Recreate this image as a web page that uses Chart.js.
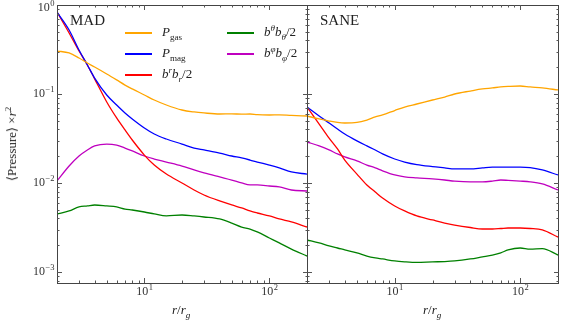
<!DOCTYPE html>
<html>
<head>
<meta charset="utf-8">
<script src="https://cdn.jsdelivr.net/npm/chart.js@4.4.0/dist/chart.umd.min.js"></script>
<style>
  body { margin: 0; background: #fff; }
  #wrap { position: relative; width: 566px; height: 324px; font-family: "Liberation Serif", serif; color: #222; overflow: hidden; }
  canvas { position: absolute; top: 0; }
  .txt { position: absolute; white-space: nowrap; line-height: 14px; }
  .key { position: absolute; height: 1.5px; width: 27px; }
  sub, sup { font-size: 70%; line-height: 0; }
  i { font-style: italic; }
</style>
</head>
<body>
<div id="wrap">
  <canvas id="mad" width="310" height="324" style="left:0"></canvas>
  <canvas id="sane" width="266" height="324" style="left:300px"></canvas>

  <div class="txt" style="left:70px;top:13px;font-size:15px;">MAD</div>
  <div class="txt" style="left:320px;top:13px;font-size:15px;">SANE</div>

  <div class="key" style="left:125px;top:32px;background:orange"></div>
  <div class="key" style="left:125px;top:53px;background:blue"></div>
  <div class="key" style="left:125px;top:74px;background:red"></div>
  <div class="key" style="left:227px;top:32px;background:green"></div>
  <div class="key" style="left:227px;top:53px;background:#bf00bf"></div>
  <div class="txt" style="left:162px;top:25px;font-size:13px;"><i>P</i><sub>gas</sub></div>
  <div class="txt" style="left:162px;top:46px;font-size:13px;"><i>P</i><sub>mag</sub></div>
  <div class="txt" style="left:162px;top:67px;font-size:13px;"><i>b<sup>r</sup>b<sub>r</sub></i>/2</div>
  <div class="txt" style="left:264px;top:25px;font-size:13px;"><i>b<sup>θ</sup>b<sub>θ</sub></i>/2</div>
  <div class="txt" style="left:264px;top:46px;font-size:13px;"><i>b<sup>φ</sup>b<sub>φ</sub></i>/2</div>

  <div class="txt" style="left:172px;top:303px;font-size:13px;"><i>r</i>/<i>r<sub>g</sub></i></div>
  <div class="txt" style="left:423px;top:303px;font-size:13px;"><i>r</i>/<i>r<sub>g</sub></i></div>
  <div class="txt" style="left:12px;top:144px;font-size:13px;transform:translate(-50%,-50%) rotate(-90deg);">⟨Pressure⟩ ×<i>r</i><sup>2</sup></div>
</div>
<script>
// radius grid, r / r_g
const radii = [2, 2.5, 3, 3.5, 4, 5, 6, 7, 8, 10, 12, 15, 20, 25, 30, 40, 50, 60, 70, 80, 100, 120, 150, 200];

// MAD
const madGas = [0.304, 0.289, 0.254, 0.223, 0.201, 0.168, 0.144, 0.126, 0.114, 0.0975, 0.0856, 0.0752, 0.0661, 0.0628, 0.0612, 0.0596, 0.0598, 0.0594, 0.0596, 0.0585, 0.0581, 0.0583, 0.0574, 0.0566];
const madMag = [0.834, 0.524, 0.312, 0.212, 0.151, 0.0975, 0.0752, 0.0612, 0.0524, 0.0415, 0.0355, 0.0312, 0.0274, 0.0247, 0.0235, 0.0217, 0.0201, 0.0191, 0.0181, 0.0172, 0.0159, 0.0148, 0.0133, 0.0126];
const madBr = [0.834, 0.485, 0.304, 0.212, 0.148, 0.0813, 0.0538, 0.0394, 0.0304, 0.0206, 0.0159, 0.0126, 0.0100, 0.00834, 0.00733, 0.00628, 0.00566, 0.00524, 0.00485, 0.00460, 0.00426, 0.00394, 0.00365, 0.00320];
const madBth = [0.00449, 0.00485, 0.00538, 0.00552, 0.00566, 0.00552, 0.00538, 0.00510, 0.00497, 0.00472, 0.00449, 0.00426, 0.00437, 0.00426, 0.00415, 0.00394, 0.00355, 0.00320, 0.00304, 0.00282, 0.00241, 0.00212, 0.00181, 0.00151];
const madBph = [0.01054, 0.01553, 0.0201, 0.0235, 0.0261, 0.0274, 0.0267, 0.0247, 0.0229, 0.0201, 0.0186, 0.0172, 0.0155, 0.0140, 0.0130, 0.0117, 0.0108, 0.0100, 0.00950, 0.00950, 0.00925, 0.00902, 0.00834, 0.00813];

// SANE
const saneGas = [0.0566, 0.0524, 0.0497, 0.0479, 0.0472, 0.0479, 0.0510, 0.0552, 0.0581, 0.0652, 0.0714, 0.0772, 0.0856, 0.0925, 0.100, 0.108, 0.114, 0.117, 0.120, 0.1215, 0.123, 0.120, 0.117, 0.111];
const saneMag = [0.0714, 0.0566, 0.0472, 0.0404, 0.0355, 0.0297, 0.0261, 0.0235, 0.0212, 0.0186, 0.0172, 0.0161, 0.0153, 0.0148, 0.0144, 0.0144, 0.0148, 0.0151, 0.0151, 0.0151, 0.0151, 0.0149, 0.0140, 0.0123];
const saneBr = [0.0714, 0.0460, 0.0320, 0.0241, 0.0181, 0.0126, 0.00950, 0.00792, 0.00678, 0.00552, 0.00485, 0.00426, 0.00384, 0.00355, 0.00337, 0.00316, 0.00304, 0.00304, 0.00308, 0.00312, 0.00312, 0.00308, 0.00297, 0.00247];
const saneBth = [0.00229, 0.00212, 0.00196, 0.00186, 0.00177, 0.00164, 0.00151, 0.00144, 0.00140, 0.00133, 0.00130, 0.00128, 0.00130, 0.00131, 0.00133, 0.00140, 0.00148, 0.00155, 0.00164, 0.00177, 0.00186, 0.00181, 0.00183, 0.00155];
const saneBph = [0.0289, 0.0261, 0.0235, 0.0212, 0.0196, 0.0177, 0.0159, 0.0148, 0.0137, 0.0123, 0.0117, 0.0114, 0.0111, 0.0108, 0.0105, 0.0103, 0.0103, 0.0105, 0.0108, 0.0107, 0.0105, 0.0103, 0.00975, 0.00834];

// tick labels
const xTicks = [10, 100];
const yTicks = [0.001, 0.01, 0.1, 1];

const colors = ['orange', 'blue', 'red', 'green', '#bf00bf'];

function series(vals, i) {
  return {
    data: radii.map((r, k) => ({ x: r, y: vals[k] })),
    borderColor: colors[i],
    borderWidth: 1.3,
    pointRadius: 0,
    fill: false,
    cubicInterpolationMode: 'monotone'
  };
}

// box, inward ticks and decade labels
const frame = {
  id: 'frame',
  afterDraw(chart, args, opts) {
    const { ctx, chartArea: a, scales: { x, y } } = chart;
    ctx.save();
    ctx.strokeStyle = '#444';
    ctx.lineWidth = 1;
    ctx.strokeRect(a.left + 0.5, a.top + 0.5, a.right - a.left, a.bottom - a.top);

    ctx.strokeStyle = '#555';
    ctx.beginPath();
    for (let d = 0; d <= 2; d++) {
      for (let m = 1; m <= 9; m++) {
        const v = m * Math.pow(10, d);
        if (v <= 2 || v >= 200) continue;
        const len = m === 1 ? 5 : 2.5;
        const px = Math.round(x.getPixelForValue(v)) + 0.5;
        ctx.moveTo(px, a.bottom); ctx.lineTo(px, a.bottom - len);
        ctx.moveTo(px, a.top); ctx.lineTo(px, a.top + len);
      }
    }
    for (let d = -4; d <= 0; d++) {
      for (let m = 1; m <= 9; m++) {
        const v = m * Math.pow(10, d);
        if (v < y.min || v >= y.max) continue;
        const len = m === 1 ? 5 : 2.5;
        const py = Math.round(y.getPixelForValue(v)) + 0.5;
        ctx.moveTo(a.left, py); ctx.lineTo(a.left + len, py);
        ctx.moveTo(a.right + 1, py); ctx.lineTo(a.right + 1 - len, py);
      }
    }
    ctx.stroke();

    ctx.fillStyle = '#333';
    ctx.textBaseline = 'middle';
    ctx.textAlign = 'left';
    const big = '12px "Liberation Serif"', small = '8.5px "Liberation Serif"';
    const label = (v, cx, cy, align) => {
      const e = String(Math.round(Math.log10(v))).replace('-', '\u2212');
      ctx.font = big;
      const w1 = ctx.measureText('10').width;
      ctx.font = small;
      const w2 = ctx.measureText(e).width;
      const x0 = align === 'right' ? cx - w1 - w2 : cx - (w1 + w2) / 2;
      ctx.font = big;
      ctx.fillText('10', x0, cy);
      ctx.font = small;
      ctx.fillText(e, x0 + w1 + 0.5, cy - 4.5);
    };
    if (opts.yLabels) {
      yTicks.forEach(v => label(v, a.left - 3, Math.max(y.getPixelForValue(v), 8), 'right'));
    }
    xTicks.forEach(v => label(v, x.getPixelForValue(v), a.bottom + 9, 'center'));
    ctx.restore();
  }
};

function makeChart(id, sets, pad, yLabels) {
  new Chart(document.getElementById(id), {
    type: 'line',
    data: { datasets: sets.map(series) },
    options: {
      responsive: false,
      animation: false,
      parsing: false,
      layout: { padding: pad },
      scales: {
        x: { type: 'logarithmic', min: 2, max: 200, display: false },
        y: { type: 'logarithmic', min: 7.52e-4, max: 1, display: false }
      },
      plugins: {
        legend: { display: false },
        tooltip: { enabled: false },
        frame: { yLabels: yLabels }
      }
    },
    plugins: [frame]
  });
}

makeChart('mad', [madGas, madMag, madBr, madBth, madBph], { left: 57, right: 3, top: 5, bottom: 41 }, true);
makeChart('sane', [saneGas, saneMag, saneBr, saneBth, saneBph], { left: 7, right: 8, top: 5, bottom: 41 }, false);
</script>
</body>
</html>
